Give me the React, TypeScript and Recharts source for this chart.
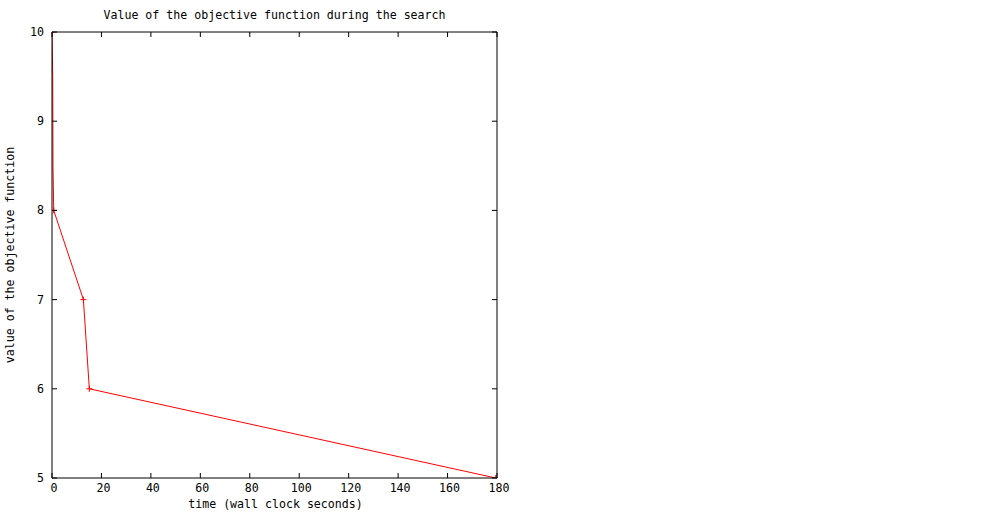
import React from 'react';
import { LineChart, Line, XAxis, YAxis } from 'recharts';

const times = [0, 0.3, 0.4, 0.7, 12.7, 15.1, 179.5];
const values = [10, 9.5, 8.5, 8, 7, 6, 5];
const xTicks = [0, 20, 40, 60, 80, 100, 120, 140, 160, 180];
const yTicks = [5, 6, 7, 8, 9, 10];

const data = times.map((t, i) => ({ t, v: values[i] }));

const FONT = '"DejaVu Sans Mono", monospace';
const FS = 11.6;

const XTickBottom = (props: any) => {
  const { x, y, payload } = props;
  return (
    <g>
      <line x1={x} x2={x} y1={y} y2={y - 5} stroke="#000" strokeWidth={1} />
      <text x={x + 2} y={y + 14} textAnchor="middle" fontFamily={FONT} fontSize={FS} fill="#000">
        {payload.value}
      </text>
    </g>
  );
};

const XTickTop = (props: any) => {
  const { x, y } = props;
  return <line x1={x} x2={x} y1={y} y2={y + 5} stroke="#000" strokeWidth={1} />;
};

const YTickLeft = (props: any) => {
  const { x, y, payload } = props;
  return (
    <g>
      <line x1={x} x2={x + 5} y1={y} y2={y} stroke="#000" strokeWidth={1} />
      <text x={x - 8} y={y + 4} textAnchor="end" fontFamily={FONT} fontSize={FS} fill="#000">
        {payload.value}
      </text>
    </g>
  );
};

const YTickRight = (props: any) => {
  const { x, y } = props;
  return <line x1={x} x2={x - 5} y1={y} y2={y} stroke="#000" strokeWidth={1} />;
};

const CrossDot = (props: any) => {
  const { cx, cy, payload, index } = props;
  if (!Number.isInteger(payload.v)) return <g key={`d${index}`} />;
  return (
    <g key={`d${index}`}>
      <line x1={cx - 3} x2={cx + 3} y1={cy} y2={cy} stroke="#ff0000" strokeWidth={1} />
      <line x1={cx} x2={cx} y1={cy - 3} y2={cy + 3} stroke="#ff0000" strokeWidth={1} />
    </g>
  );
};

export default function App() {
  return (
    <div style={{ position: 'absolute', left: 0, top: 0, width: 992, height: 512, background: '#fff' }}>
      <LineChart
        width={992}
        height={512}
        data={data}
        margin={{ top: 31, right: 494, bottom: 4, left: 0 }}
      >
        <XAxis
          dataKey="t"
          type="number"
          domain={[0, 180]}
          ticks={xTicks}
          tickSize={0}
          tickMargin={0}
          tickLine={false}
          axisLine={{ stroke: '#000' }}
          tick={<XTickBottom />}
          height={30}
          interval={0}
          allowDataOverflow
        />
        <XAxis
          xAxisId="t"
          orientation="top"
          dataKey="t"
          type="number"
          domain={[0, 180]}
          ticks={xTicks}
          tickSize={0}
          tickMargin={0}
          tickLine={false}
          axisLine={{ stroke: '#000' }}
          tick={<XTickTop />}
          height={1}
          interval={0}
          allowDataOverflow
        />
        <YAxis
          type="number"
          domain={[5, 10]}
          ticks={yTicks}
          tickSize={0}
          tickMargin={0}
          tickLine={false}
          axisLine={{ stroke: '#000' }}
          tick={<YTickLeft />}
          width={52}
          interval={0}
          allowDataOverflow
        />
        <YAxis
          yAxisId="r"
          orientation="right"
          type="number"
          domain={[5, 10]}
          ticks={yTicks}
          tickSize={0}
          tickMargin={0}
          tickLine={false}
          axisLine={{ stroke: '#000' }}
          tick={<YTickRight />}
          width={1}
          interval={0}
          allowDataOverflow
        />
        <Line
          type="linear"
          dataKey="v"
          stroke="#ff0000"
          strokeWidth={1}
          dot={<CrossDot />}
          activeDot={false}
          isAnimationActive={false}
        />
      </LineChart>
      <div
        style={{
          position: 'absolute',
          left: 0,
          width: 549,
          top: 8,
          textAlign: 'center',
          fontFamily: FONT,
          fontSize: FS,
          lineHeight: '14px',
          color: '#000',
          whiteSpace: 'nowrap',
        }}
      >
        Value of the objective function during the search
      </div>
      <div
        style={{
          position: 'absolute',
          left: 0,
          width: 551,
          top: 497,
          textAlign: 'center',
          fontFamily: FONT,
          fontSize: FS,
          lineHeight: '14px',
          color: '#000',
          whiteSpace: 'nowrap',
        }}
      >
        time (wall clock seconds)
      </div>
      <div
        style={{
          position: 'absolute',
          left: 10,
          top: 255,
          width: 0,
          height: 0,
        }}
      >
        <div
          style={{
            position: 'absolute',
            left: -150,
            top: -7,
            width: 300,
            textAlign: 'center',
            transform: 'rotate(-90deg)',
            fontFamily: FONT,
            fontSize: FS,
            lineHeight: '14px',
            color: '#000',
            whiteSpace: 'nowrap',
          }}
        >
          value of the objective function
        </div>
      </div>
    </div>
  );
}
